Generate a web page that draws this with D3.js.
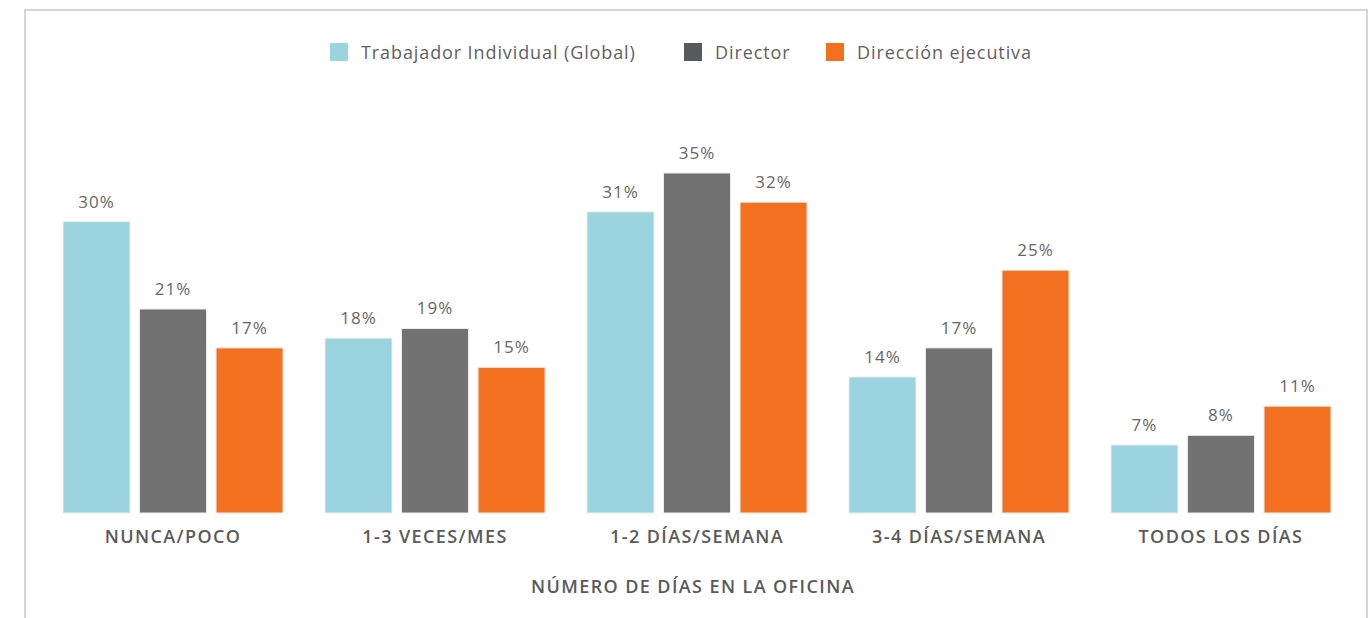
<!DOCTYPE html>
<html>
<head>
<meta charset="utf-8">
<script src="https://cdn.jsdelivr.net/npm/d3@7"></script>
<style>
  body { margin: 0; background: #fff; }
  svg { display: block; font-family: "Open Sans", sans-serif; }
  .frame { fill: none; stroke: #d6d6d6; stroke-width: 2; }
  .val { fill: #666; font-size: 17px; font-weight: 400; text-anchor: middle; letter-spacing: 1px; }
  .cat { fill: #5a5a5a; font-size: 18px; font-weight: 600; text-anchor: middle; letter-spacing: 1.4px; }
  .leg { fill: #5f5f5f; font-size: 18px; font-weight: 400; letter-spacing: 0.9px; }
</style>
</head>
<body>
<svg width="1371" height="618"></svg>
<script>
const categories = ['NUNCA/POCO', '1-3 VECES/MES', '1-2 DÍAS/SEMANA', '3-4 DÍAS/SEMANA', 'TODOS LOS DÍAS'];
const seriesNames = ['Trabajador Individual (Global)', 'Director', 'Dirección ejecutiva'];
const individual = [30, 18, 31, 14, 7];
const director = [21, 19, 35, 17, 8];
const ejecutiva = [17, 15, 32, 25, 11];
const axisTitle = 'NÚMERO DE DÍAS EN LA OFICINA';

const colors = ['#9bd3de', '#727272', '#f37021'];
const legendColors = ['#9bd3de', '#58595b', '#f37021'];
const seriesValues = [individual, director, ejecutiva];

const svg = d3.select('svg');

svg.append('rect').attr('class', 'frame')
    .attr('x', 25).attr('y', 10).attr('width', 1342).attr('height', 640);

const x0 = d3.scaleBand()
    .domain(categories)
    .range([63, 1331])
    .paddingInner(0.16);

const x1 = d3.scaleBand()
    .domain(seriesNames)
    .range([0, x0.bandwidth()])
    .paddingInner(0.124);

const y = d3.scaleLinear()
    .domain([0, 35])
    .range([513, 173]);

const rows = categories.map((c, i) => ({
    cat: c,
    vals: seriesNames.map((s, j) => ({ s, j, v: seriesValues[j][i] }))
}));

const groups = svg.append('g').selectAll('g')
    .data(rows).join('g')
    .attr('transform', d => `translate(${x0(d.cat)},0)`);

groups.selectAll('rect')
    .data(d => d.vals).join('rect')
    .attr('x', d => x1(d.s))
    .attr('y', d => y(d.v))
    .attr('width', x1.bandwidth())
    .attr('height', d => y(0) - y(d.v))
    .attr('fill', d => colors[d.j])
    .attr('stroke', '#eeeeee')
    .attr('stroke-width', 1);

groups.selectAll('text.val')
    .data(d => d.vals).join('text')
    .attr('class', 'val')
    .attr('x', d => x1(d.s) + x1.bandwidth() / 2)
    .attr('y', d => y(d.v) - 14)
    .text(d => d.v + '%');

// category axis, no line
const xAxis = d3.axisBottom(x0).tickSize(0).tickPadding(0);
const xAxisG = svg.append('g').attr('transform', 'translate(0,543)').call(xAxis);
xAxisG.attr('font-family', null).attr('font-size', null).attr('text-anchor', null);
xAxisG.select('.domain').remove();
xAxisG.selectAll('text').attr('class', 'cat').attr('dy', 0).attr('fill', null);

svg.append('text').attr('class', 'cat')
    .attr('x', 693).attr('y', 593)
    .text(axisTitle);

// legend
const legendX = [330, 684, 826];
const leg = svg.append('g').selectAll('g')
    .data(seriesNames).join('g')
    .attr('transform', (d, i) => `translate(${legendX[i]},43)`);
leg.append('rect').attr('width', 18).attr('height', 18)
    .attr('fill', (d, i) => legendColors[i]);
leg.append('text').attr('class', 'leg')
    .attr('x', 31).attr('y', 16)
    .text(d => d);
</script>
</body>
</html>
